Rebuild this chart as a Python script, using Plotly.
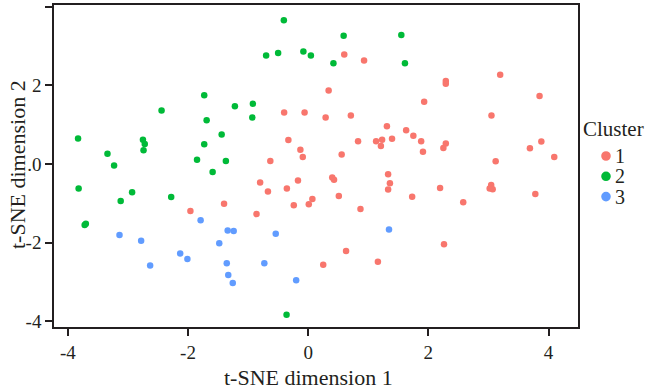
import plotly.graph_objects as go

# Cluster 1 (red)
c1_x = [0.60, 0.93, 3.195, 2.29, 2.29, 0.34, 3.85, 1.93, -0.40, -0.06, 0.29, 0.71, 3.05, 1.31,
        -0.33, 0.83, 1.13, 1.23, 1.21, 1.395, 1.63, 1.75, 1.88, 1.91, 2.29, 2.25, 3.69, 3.88,
        4.095, 3.12, 0.557, -0.13, -0.09, -0.63, -0.80, -0.67, -0.355, -0.17, 1.33, 0.40, 0.43,
        1.36, 1.33, 2.195, 3.045, 3.02, 3.07, 3.78, 0.51, 1.73, 0.07, 0.01, 2.58, 0.87, -1.96,
        -1.40, -0.86, -0.24, 0.25, 2.26, 0.63, 1.16]
c1_y = [2.78, 2.63, 2.27, 2.11, 2.04, 1.87, 1.73, 1.58, 1.31, 1.31, 1.18, 1.23, 1.23, 0.96,
        0.61, 0.58, 0.58, 0.62, 0.46, 0.64, 0.86, 0.72, 0.58, 0.31, 0.52, 0.41, 0.40, 0.57,
        0.18, 0.07, 0.24, 0.36, 0.18, 0.08, -0.47, -0.70, -0.62, -0.42, -0.26, -0.34, -0.40,
        -0.49, -0.65, -0.61, -0.53, -0.62, -0.64, -0.76, -0.81, -0.83, -0.89, -1.02, -0.97, -1.14, -1.19,
        -1.01, -1.27, -1.05, -2.56, -2.04, -2.21, -2.48]

# Cluster 2 (green)
c2_x = [-0.405, -0.70, -0.50, -0.08, 0.045, 0.59, 1.55, 0.42, 1.61, -1.73, -2.44, -1.22, -0.92,
        -0.93, -1.69, -3.83, -2.75, -2.72, -2.74, -1.44, -1.73, -3.34, -3.23, -1.85, -1.37,
        -1.59, -3.82, -2.93, -2.28, -3.12, -3.72, -3.70, -0.36]
c2_y = [3.65, 2.76, 2.82, 2.86, 2.76, 3.26, 3.28, 2.56, 2.56, 1.75, 1.36, 1.47, 1.53,
        1.18, 1.11, 0.65, 0.62, 0.51, 0.35, 0.75, 0.50, 0.26, -0.04, 0.11, 0.08,
        -0.20, -0.62, -0.72, -0.84, -0.94, -1.55, -1.52, -3.83]

# Cluster 3 (blue)
c3_x = [-1.79, -3.14, -2.78, -2.63, -2.13, -2.01, -1.34, -1.24, -1.48, -0.54, -1.355, -1.33,
        -1.255, -0.73, -0.20, 1.345]
c3_y = [-1.43, -1.80, -1.95, -2.58, -2.27, -2.41, -1.69, -1.70, -2.01, -1.77, -2.52, -2.82,
        -3.02, -2.52, -2.95, -1.66]

x_ticks = [-4, -2, 0, 2, 4]
x_labels = ["-4", "-2", "0", "2", "4"]
y_ticks = [-4, -2, 0, 2, 4]
y_labels = ["-4", "-2", ".0", "2", "4"]

x_title = "t-SNE dimension 1"
y_title = "t-SNE dimension 2"
legend_title = "Cluster"
cluster_names = ["1", "2", "3"]
cluster_colors = ["#F8766D", "#00BA38", "#619CFF"]
series = [(c1_x, c1_y), (c2_x, c2_y), (c3_x, c3_y)]

FONT = "'Liberation Serif', 'Times New Roman', 'DejaVu Serif', serif"
LC = "#231F20"

fig = go.Figure()
for name, (xs, ys), col in zip(cluster_names, series, cluster_colors):
    fig.add_trace(go.Scatter(x=xs, y=ys, mode="markers", name=name, showlegend=False,
                             marker=dict(color=col, size=6.5, line=dict(width=0))))

L, R, T, B = 54, 578, 5, 327
def px_x(p):
    return (p - L) / (R - L)
def px_y(p):
    return (B - p) / (B - T)

# axis titles
fig.add_annotation(text=x_title, xref="paper", yref="paper", x=px_x(308), y=px_y(377),
                   xanchor="center", yanchor="middle", showarrow=False,
                   font=dict(family=FONT, size=22, color=LC))
fig.add_annotation(text=y_title, xref="paper", yref="paper", x=px_x(17), y=px_y(165),
                   xanchor="center", yanchor="middle", showarrow=False, textangle=-90,
                   font=dict(family=FONT, size=22, color=LC))

# legend (drawn manually for exact spacing)
fig.add_annotation(text=legend_title, xref="paper", yref="paper", x=px_x(581), y=px_y(129),
                   xanchor="left", yanchor="middle", showarrow=False,
                   font=dict(family=FONT, size=21, color=LC))
for i, (name, col) in enumerate(zip(cluster_names, cluster_colors)):
    yy = px_y(156 + 20.3 * i)
    fig.add_shape(type="circle", xref="paper", yref="paper", xsizemode="pixel", ysizemode="pixel",
                  xanchor=px_x(606), yanchor=yy, x0=-4.8, x1=4.8, y0=-4.8, y1=4.8,
                  fillcolor=col, line=dict(width=0))
    fig.add_annotation(text=name, xref="paper", yref="paper", x=px_x(613), y=yy,
                       xanchor="left", yanchor="middle", showarrow=False,
                       font=dict(family=FONT, size=20, color=LC))

fig.update_layout(
    width=646, height=389,
    margin=dict(l=L, r=646 - R, t=T, b=389 - B, autoexpand=False),
    paper_bgcolor="white", plot_bgcolor="white",
    font=dict(family=FONT, color=LC, size=18),
    showlegend=False,
)
fig.update_xaxes(range=[-4.23, 4.49], tickvals=x_ticks, ticktext=x_labels, automargin=False,
                 showgrid=False, zeroline=False, showline=True, mirror=True,
                 linecolor=LC, linewidth=1.5, ticks="outside", ticklen=7, tickcolor=LC,
                 tickwidth=1.5, tickfont=dict(family=FONT, size=19))
fig.update_yaxes(range=[-4.14, 4.04], tickvals=y_ticks, ticktext=y_labels, automargin=False,
                 showgrid=False, zeroline=False, showline=True, mirror=True,
                 linecolor=LC, linewidth=1.5, ticks="outside", ticklen=7, tickcolor=LC,
                 tickwidth=1.5, tickfont=dict(family=FONT, size=19))

fig.write_html("out.html", config={"displayModeBar": False},
               post_script="document.body.style.margin='0';document.body.style.padding='0';")
